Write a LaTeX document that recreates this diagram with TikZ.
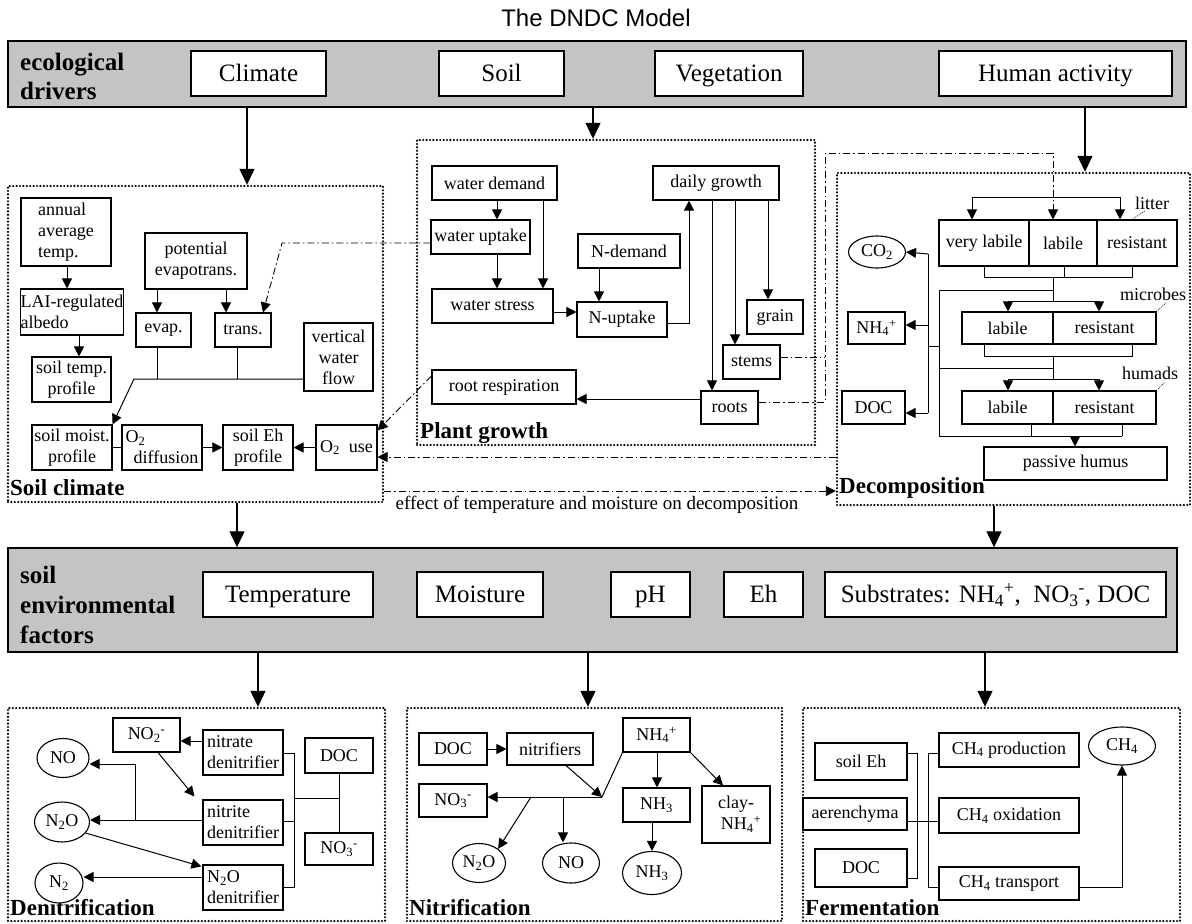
\documentclass[tikz,border=0pt]{standalone}
\usepackage{fontspec}
\setmainfont{Liberation Serif}
\newfontfamily\sansf{Liberation Sans}
\usetikzlibrary{arrows.meta,shapes.geometric,calc}
\definecolor{barg}{RGB}{196,196,196}
\tikzset{
 bx/.style={draw,line width=1.1pt,inner sep=0pt,align=center,fill=white,font=\fontsize{18}{21}\selectfont},
 bigbx/.style={line width=1.2pt,font=\fontsize{25}{28}\selectfont,text height=21pt,text depth=5pt},
 elp/.style={ellipse,draw,line width=1.1pt,inner sep=0pt,fill=white,font=\fontsize{18}{20}\selectfont},
 sect/.style={draw,line width=2.4pt,dash pattern=on 0pt off 3.4pt,line cap=round},
 barsty/.style={draw,line width=1.4pt,fill=barg},
 seclbl/.style={font=\bfseries\fontsize{23}{25}\selectfont,anchor=west,inner sep=0pt},
 barlbl/.style={font=\bfseries\fontsize{25}{29}\selectfont,anchor=west,align=left,inner sep=0pt},
 ln/.style={line width=1pt},
 sarr/.style={line width=1pt,-{Triangle[length=10pt,width=10pt]}},
 barr/.style={line width=1.2pt,-{Triangle[length=16pt,width=15pt]}},
 dd/.style={line width=0.9pt,dash pattern=on 7pt off 3pt on 1.5pt off 3pt},
 ddarr/.style={dd,-{Triangle[length=10pt,width=10pt]}},
 lead/.style={line width=0.6pt,dash pattern=on 1pt off 1pt},
 small/.style={font=\fontsize{18}{20}\selectfont,inner sep=0pt}
}
\newcommand\mkbox[7][]{\node[bx,minimum width={#5-#3},minimum height={#6-#4},#1] (#2) at ({(#3+#5)/2},{(#4+#6)/2}) {#7};}
\newcommand\mksect[5]{\node[sect,minimum width={#4-#2},minimum height={#5-#3},inner sep=0pt] (#1) at ({(#2+#4)/2},{(#3+#5)/2}) {};}
\begin{document}
\begin{tikzpicture}[x=1pt,y=-1pt]
\useasboundingbox[fill=white] (0,0) rectangle (1192,924);
% title
\node[font=\sansf\fontsize{24}{26}\selectfont] (title) at (596,18) {The DNDC Model};
% top bar
\mkbox[barsty]{bar1}{8}{41}{1186}{107}{}
\node[barlbl] (ecol) at (20,76) {ecological\\drivers};
\mkbox[bigbx]{climate}{191}{51}{326}{96}{Climate}
\mkbox[bigbx]{soil}{439}{51}{564}{96}{Soil}
\mkbox[bigbx]{veg}{655}{51}{803}{96}{Vegetation}
\mkbox[bigbx]{human}{939}{51}{1172}{96}{Human activity}
% sections
\mksect{sc}{8}{186}{383}{502}
\mksect{pg}{417}{140}{815}{445}
\mksect{dec}{837}{173}{1190}{505}
\mksect{den}{8}{708}{385}{921}
\mksect{nit}{407}{708}{782}{921}
\mksect{fer}{803}{708}{1180}{921}
\node[seclbl] (sclbl) at (10,488) {Soil climate};
\node[seclbl] (pglbl) at (420,433) {Plant growth};
\node[seclbl] (declbl) at (839,488) {Decomposition};
\node[seclbl] (denlbl) at (10,908) {Denitrification};
\node[seclbl] (nitlbl) at (409,908) {Nitrification};
\node[seclbl] (ferlbl) at (805,908) {Fermentation};
% bar arrows
\draw[barr] (247,0 |- bar1.south) -- (247,0 |- sc.north);
\draw[barr] (593,0 |- bar1.south) -- (593,0 |- pg.north);
\draw[barr] (1085,0 |- bar1.south) -- (1085,0 |- dec.north);
% ---------- soil climate ----------
\mkbox[align=left]{annual}{21}{198}{111}{266}{annual\\average\\temp.}
\mkbox[align=left]{lai}{21}{289}{123}{335}{LAI-regulated\\albedo}
\mkbox{stp}{32}{357}{111}{402}{soil temp.\\profile}
\mkbox{pet}{145}{233}{247}{289}{potential\\evapotrans.}
\mkbox{evap}{136}{313}{191}{347}{evap.}
\mkbox{trans}{215}{313}{271}{347}{trans.}
\mkbox{vwf}{304}{323}{373}{391}{vertical\\water\\flow}
\mkbox{smp}{32}{425}{112}{470}{soil moist.\\profile}
\mkbox[align=left]{o2d}{122}{425}{202}{470}{O\textsubscript{2}\\\hspace*{8pt}diffusion}
\mkbox{seh}{223}{425}{293}{470}{soil Eh\\profile}
\mkbox{o2u}{316}{425}{377}{470}{O\textsubscript{2}~ use}
\draw[sarr] (67,0 |- annual.south) -- (67,0 |- lai.north);
\draw[sarr] (79,0 |- lai.south) -- (79,0 |- stp.north);
\draw[sarr] (157,0 |- pet.south) -- (157,0 |- evap.north);
\draw[sarr] (226,0 |- pet.south) -- (226,0 |- trans.north);
\coordinate (j1) at (134,379);
\draw[ln] (157,0 |- evap.south) -- (157,379);
\draw[ln] (237,0 |- trans.south) -- (237,379);
\draw[sarr] (vwf.west |- j1) -- (j1) -- (smp.north east);
\draw[ln] (smp.east) -- (o2d.west);
\draw[sarr] (o2d.east) -- (seh.west);
\draw[sarr] (o2u.west) -- (seh.east);
% ---------- plant growth ----------
\mkbox{wd}{432}{166}{557}{200}{water demand}
\mkbox{wu}{431}{220}{530}{254}{water uptake}
\mkbox{ws}{432}{289}{553}{323}{water stress}
\mkbox{nd}{578}{234}{680}{268}{N-demand}
\mkbox{nu}{577}{302}{667}{337}{N-uptake}
\mkbox{dg}{653}{166}{779}{200}{daily growth}
\mkbox{grain}{747}{300}{803}{334}{grain}
\mkbox{stems}{723}{345}{780}{379}{stems}
\mkbox{roots}{701}{391}{758}{424}{roots}
\mkbox{rr}{432}{370}{576}{404}{root respiration}
\draw[sarr] (497,0 |- wd.south) -- (497,0 |- wu.north);
\draw[sarr] (497,0 |- wu.south) -- (497,0 |- ws.north);
\draw[sarr] (543,0 |- wd.south) -- (543,0 |- ws.north);
\draw[sarr] (ws.east |- 0,312) -- (nu.west |- 0,312);
\draw[sarr] (599,0 |- nd.south) -- (599,0 |- nu.north);
\draw[sarr] (nu.east |- 0,323) -| (689,0 |- dg.south);
\draw[sarr] (712,0 |- dg.south) -- (712,0 |- roots.north);
\draw[sarr] (735,0 |- dg.south) -- (735,0 |- stems.north);
\draw[sarr] (768,0 |- dg.south) -- (768,0 |- grain.north);
\draw[sarr] (roots.west |- 0,399) -- (rr.east |- 0,399);
% ---------- decomposition ----------
\mkbox{vl}{939}{220}{1029}{266}{very labile}
\mkbox{lab1}{1029}{220}{1097}{266}{labile}
\mkbox{res1}{1097}{220}{1177}{266}{resistant}
\mkbox{lab2}{962}{312}{1053}{344}{labile}
\mkbox{res2}{1053}{312}{1156}{344}{resistant}
\mkbox{lab3}{962}{391}{1053}{424}{labile}
\mkbox{res3}{1053}{391}{1156}{424}{resistant}
\mkbox{ph}{984}{447}{1167}{480}{passive humus}
\node[elp,minimum width=57pt,minimum height=32pt] (co2) at (877,252) {CO\textsubscript{2}};
\mkbox{nh4}{848}{312}{905}{344}{NH\textsubscript{4}\textsuperscript{+}}
\mkbox{doc1}{842}{391}{905}{424}{DOC}
\draw[ln] (972,197) -- (1120,197);
\draw[sarr] (972,197) -- (972,0 |- vl.north);
\draw[sarr] (1120,197) -- (1120,0 |- res1.north);
\node[small] (litter) at (1152,203) {litter};
\draw[lead] (1132,0 |- res1.north) -- (1145,211);
\draw[ln] (984,0 |- vl.south) -- (984,277) -- (1132,277) -- (1132,0 |- res1.south);
\draw[ln] (1064,0 |- lab1.south) -- (1064,277);
\draw[ln] (1053,277) -- (1053,301);
\draw[ln] (1008,301) -- (1099,301);
\draw[sarr] (1008,301) -- (1008,0 |- lab2.north);
\draw[sarr] (1099,301) -- (1099,0 |- res2.north);
\node[small] (microbes) at (1153,294) {microbes};
\draw[lead] (res2.north east) -- (1167,302);
\draw[ln] (1053,290) -- (939,290) -- (939,436) -- (1122,436);
\draw[ln] (939,368) -- (1053,368);
\draw[ln] (984,0 |- lab2.south) -- (984,356) -- (1132,356) -- (1132,0 |- res2.south);
\draw[ln] (1053,356) -- (1053,379);
\draw[ln] (1008,379) -- (1099,379);
\draw[sarr] (1008,379) -- (1008,0 |- lab3.north);
\draw[sarr] (1099,379) -- (1099,0 |- res3.north);
\node[small] (humads) at (1150,373) {humads};
\draw[lead] (res3.north east) -- (1165,382);
\draw[ln] (1031,0 |- lab3.south) -- (1031,436);
\draw[ln] (1122,0 |- res3.south) -- (1122,436);
\draw[sarr] (1075,436) -- (1075,0 |- ph.north);
\draw[ln] (928,346) -- (939,346);
\draw[ln] (928,254) -- (928,413);
\draw[sarr] (928,254) -- (co2.east);
\draw[sarr] (928,325) -- (nh4.east |- 0,325);
\draw[sarr] (928,413) -- (doc1.east |- 0,413);
% ---------- dash-dot links ----------
\draw[ddarr] (wu.west |- 0,243) -- (282,243) -- (263,0 |- trans.north);
\draw[ddarr] (rr.west |- 0,376) -- ([yshift=-6pt]o2u.north east);
\draw[ddarr] (dec.west |- 0,457) -- (o2u.east |- 0,457);
\draw[ddarr] (sc.east |- 0,491) -- (dec.west |- 0,491);
\node[font=\fontsize{19}{21}\selectfont] (effect) at (597,505) {effect of temperature and moisture on decomposition};
\draw[dd] (stems.east |- 0,357) -- (825,357);
\draw[ddarr] (roots.east |- 0,402) -- (825,402) -- (825,153) -- (1053,153) -- (1053,0 |- lab1.north);
% ---------- factors bar ----------
\mkbox[barsty]{bar2}{8}{548}{1177}{652}{}
\node[barlbl,font=\bfseries\fontsize{25}{30}\selectfont] (sef) at (20,605) {soil\\environmental\\factors};
\mkbox[bigbx]{temp}{203}{572}{373}{617}{Temperature}
\mkbox[bigbx]{moist}{417}{572}{543}{617}{Moisture}
\mkbox[bigbx]{pH}{611}{572}{690}{617}{pH}
\mkbox[bigbx]{Eh}{724}{572}{803}{617}{Eh}
\mkbox[bigbx]{subst}{825}{572}{1166}{617}{Substrates: NH\textsubscript{4}\textsuperscript{+},~ NO\textsubscript{3}\textsuperscript{-}, DOC}
\draw[barr] (237,0 |- sc.south) -- (237,0 |- bar2.north);
\draw[barr] (994,0 |- dec.south) -- (994,0 |- bar2.north);
\draw[barr] (258,0 |- bar2.south) -- (258,0 |- den.north);
\draw[barr] (588,0 |- bar2.south) -- (588,0 |- nit.north);
\draw[barr] (985,0 |- bar2.south) -- (985,0 |- fer.north);
% ---------- denitrification ----------
\node[elp,minimum width=52pt,minimum height=39pt] (no1) at (63,758) {NO};
\node[elp,minimum width=55pt,minimum height=40pt] (n2o1) at (62,822) {N\textsubscript{2}O};
\node[elp,minimum width=48pt,minimum height=40pt] (n2) at (59,883) {N\textsubscript{2}};
\mkbox{no2}{113}{718}{180}{752}{NO\textsubscript{2}\textsuperscript{-}}
\mkbox[align=left]{natd}{203}{730}{283}{775}{nitrate\\denitrifier}
\mkbox[align=left]{nitd}{203}{800}{283}{845}{nitrite\\denitrifier}
\mkbox[align=left]{n2od}{203}{865}{283}{910}{N\textsubscript{2}O\\denitrifier}
\mkbox{doc2}{305}{738}{373}{773}{DOC}
\mkbox{no3a}{305}{833}{373}{865}{NO\textsubscript{3}\textsuperscript{-}}
\draw[sarr] (natd.west |- 0,741) -- (no2.east |- 0,741);
\draw[sarr] (158,0 |- no2.south) -- ([xshift=-8pt,yshift=3pt]nitd.north west);
\draw[sarr] (nitd.west |- 0,820) -- (n2o1.east |- 0,820);
\draw[sarr] (135,820) -- (135,764) -- (no1.east |- 0,764);
\draw[sarr] (n2o1.-25) -- ([xshift=-1pt,yshift=-2pt]n2od.north west);
\draw[sarr] (n2od.west |- 0,877) -- (n2.east |- 0,877);
\draw[ln] (natd.east |- 0,753) -- (294,753) -- (294,887) -- (n2od.east |- 0,887);
\draw[ln] (nitd.east |- 0,821) -- (294,821);
\draw[ln] (294,798) -- (339,798);
\draw[ln] (339,0 |- doc2.south) -- (339,0 |- no3a.north);
% ---------- nitrification ----------
\mkbox{doc3}{419}{733}{487}{765}{DOC}
\mkbox{nitr}{507}{733}{593}{765}{nitrifiers}
\mkbox{nh4b}{623}{718}{690}{752}{NH\textsubscript{4}\textsuperscript{+}}
\mkbox{no3b}{419}{784}{487}{817}{NO\textsubscript{3}\textsuperscript{-}}
\mkbox{nh3b}{623}{788}{690}{822}{NH\textsubscript{3}}
\mkbox{clay}{702}{786}{770}{843}{clay-\\\hspace*{10pt}NH\textsubscript{4}\textsuperscript{+}}
\node[elp,minimum width=53pt,minimum height=39pt] (n2o2) at (479,863) {N\textsubscript{2}O};
\node[elp,minimum width=57pt,minimum height=40pt] (no2e) at (571,863) {NO};
\node[elp,minimum width=59pt,minimum height=43pt] (nh3e) at (652,873) {NH\textsubscript{3}};
\coordinate (j2) at (602,797);
\draw[sarr] (doc3.east) -- (nitr.west);
\draw[sarr] (566,0 |- nitr.south) -- (j2);
\draw[ln] (nh4b.south west) -- (j2);
\draw[sarr] (j2) -- (no3b.east |- j2);
\draw[sarr] (531,0 |- j2) -- (n2o2.north east);
\draw[sarr] (563,0 |- j2) -- (563,0 |- no2e.north);
\draw[sarr] (657,0 |- nh4b.south) -- (657,0 |- nh3b.north);
\draw[sarr] (652,0 |- nh3b.south) -- (nh3e.north);
\draw[sarr] (nh4b.south east) -- (723,0 |- clay.north);
% ---------- fermentation ----------
\mkbox{seh2}{815}{743}{907}{780}{soil Eh}
\mkbox{aer}{803}{798}{907}{830}{aerenchyma}
\mkbox{doc4}{815}{849}{907}{887}{DOC}
\mkbox{chp}{939}{733}{1079}{767}{CH\textsubscript{4} production}
\mkbox{cho}{939}{798}{1079}{833}{CH\textsubscript{4} oxidation}
\mkbox{cht}{939}{867}{1079}{900}{CH\textsubscript{4} transport}
\node[elp,minimum width=67pt,minimum height=38pt] (ch4e) at (1122,746) {CH\textsubscript{4}};
\draw[ln] (seh2.east |- 0,753) -- (917,753) -- (917,878) -- (doc4.east |- 0,878);
\draw[ln] (aer.east |- 0,821) -- (cho.west |- 0,821);
\draw[ln] (chp.west |- 0,753) -- (928,753) -- (928,887) -- (cht.west |- 0,887);
\draw[sarr] (cht.east |- 0,887) -| (ch4e.south);
\end{tikzpicture}
\end{document}
